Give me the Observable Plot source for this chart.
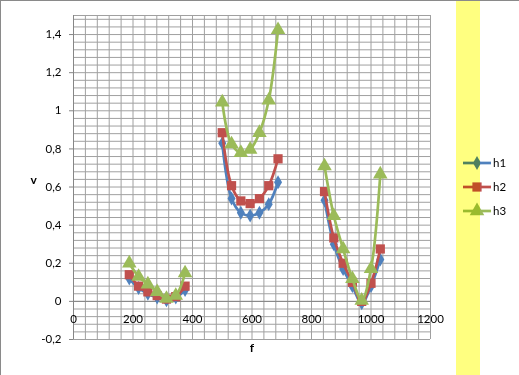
<!DOCTYPE html>
<html>
<head>
<meta charset="utf-8">
<script src="https://cdn.jsdelivr.net/npm/d3@7"></script>
<script src="https://cdn.jsdelivr.net/npm/@observablehq/plot@0.6"></script>
<style>
  body { margin: 0; background: #fff; }
  #wrap { position: relative; width: 519px; height: 375px; overflow: hidden; background: #fff; isolation: isolate; }
  #wrap svg { display: block; }
  .band { position: absolute; left: 456px; top: 0; width: 24px; height: 375px; background: #FFFF80; mix-blend-mode: multiply; }
  .bt { position: absolute; left: 0; top: 0; width: 519px; height: 1px; background: #8a8a8a; }
  .bl { position: absolute; left: 0; top: 0; width: 1px; height: 375px; background: #8a8a8a; }
  #legend { position: absolute; left: 0; top: 0; }
</style>
</head>
<body>
<div id="wrap"></div>
<script>
const seriesNames = ["h1", "h2", "h3"];
const seriesColors = ["#4F81BD", "#C0504D", "#9BBB59"];
const seriesSymbols = ["diamond", "square", "triangle"];
const seriesR = [4.2, 5.2, 5.4];

const groups = [1,1,1,1,1,1,1, 2,2,2,2,2,2,2, 3,3,3,3,3,3,3];
const f = [187.5, 218.75, 250, 281.25, 312.5, 343.75, 375,
           500, 531.25, 562.5, 593.75, 625, 656.25, 687.5,
           843.75, 875, 906.25, 937.5, 968.75, 1000, 1031.25];
const h1 = [0.12, 0.07, 0.04, 0.02, 0.005, 0.02, 0.06,
            0.83, 0.54, 0.465, 0.45, 0.465, 0.51, 0.625,
            0.53, 0.30, 0.17, 0.08, -0.01, 0.08, 0.22];
const h2 = [0.14, 0.08, 0.05, 0.03, 0.012, 0.025, 0.08,
            0.885, 0.607, 0.527, 0.513, 0.539, 0.607, 0.748,
            0.576, 0.333, 0.2, 0.1, 0.0, 0.095, 0.275];
const h3 = [0.2, 0.13, 0.09, 0.05, 0.015, 0.03, 0.148,
            1.045, 0.825, 0.78, 0.797, 0.885, 1.055, 1.425,
            0.71, 0.449, 0.275, 0.118, 0.005, 0.171, 0.667];

const xTicks = [0, 200, 400, 600, 800, 1000, 1200];
const yTicks = [-0.2, 0, 0.2, 0.4, 0.6, 0.8, 1, 1.2, 1.4];

const values = [h1, h2, h3];
const data = [];
seriesNames.forEach((s, i) => {
  f.forEach((x, j) => data.push({series: s, group: groups[j], f: x, v: values[i][j]}));
});

const fmt = d => String(d).replace(".", ",");
const gridX = d3.range(0, 1200.001, 40);
const gridY = d3.range(-0.2, 1.49, 0.04).map(d => +d.toFixed(2)).concat([1.5]);

const seriesMarks = seriesNames.flatMap((s, i) => {
  const sub = data.filter(d => d.series === s);
  return [
    Plot.line(sub, {x: "f", y: "v", z: "group", stroke: seriesColors[i], strokeWidth: 2.7, curve: "catmull-rom"}),
    Plot.dot(sub, {x: "f", y: "v", fill: seriesColors[i], stroke: "none", symbol: seriesSymbols[i], r: seriesR[i]})
  ];
});

const chart = Plot.plot({
  width: 519,
  height: 375,
  marginLeft: 73,
  marginRight: 89,
  marginTop: 15,
  marginBottom: 36,
  style: {fontFamily: "Lato, 'Open Sans', sans-serif", fontSize: "11.5px", color: "#000", background: "transparent"},
  x: {domain: [0, 1200]},
  y: {domain: [-0.2, 1.5]},
  marks: [
    Plot.ruleX(gridX, {y1: -0.2, y2: 1.5, stroke: "#a0a0a0", strokeWidth: 1}),
    Plot.ruleY(gridY, {x1: 0, x2: 1200, stroke: "#a0a0a0", strokeWidth: 1}),
    Plot.ruleX([0], {y1: -0.2, y2: 1.5, stroke: "#868686", strokeWidth: 1}),
    Plot.ruleY([0], {x1: 0, x2: 1200, stroke: "#868686", strokeWidth: 1}),
    Plot.axisY(yTicks, {tickFormat: fmt, tickSize: 4, tickPadding: 8, stroke: "#868686", label: null, fontSize: 11.5}),
    Plot.axisX([], {label: null}),
    Plot.text(xTicks, {x: d => d, y: 0, dy: 18, text: d => String(d), fill: "#000", fontSize: 11.5}),
    Plot.text(["v"], {frameAnchor: "left", dx: -43, dy: 3, text: d => d, fontWeight: "bold", fontSize: 12}),
    Plot.text(["f"], {frameAnchor: "bottom", dy: 12, text: d => d, fontWeight: "bold", fontSize: 12}),
    ...seriesMarks
  ]
});

const wrap = document.getElementById("wrap");
wrap.appendChild(chart);

// legend
const leg = d3.select(wrap).append("svg").attr("id", "legend").attr("width", 519).attr("height", 375);
const legY = [163, 187, 211];
const d3Symbols = {diamond: d3.symbolDiamond, square: d3.symbolSquare, triangle: d3.symbolTriangle};
seriesNames.forEach((s, i) => {
  const g = leg.append("g").attr("transform", `translate(0,${legY[i]})`);
  g.append("line").attr("x1", 463).attr("x2", 491).attr("y1", 0).attr("y2", 0)
    .attr("stroke", seriesColors[i]).attr("stroke-width", 2.7);
  g.append("path").attr("transform", "translate(477,0)")
    .attr("d", d3.symbol(d3Symbols[seriesSymbols[i]], Math.PI * seriesR[i] * seriesR[i])())
    .attr("fill", seriesColors[i]);
  g.append("text").attr("x", 493).attr("y", 0).attr("dy", "0.35em")
    .attr("font-family", "Lato, 'Open Sans', sans-serif").attr("font-size", 11.5).text(s);
});

const band = document.createElement("div"); band.className = "band"; wrap.appendChild(band);
const bt = document.createElement("div"); bt.className = "bt"; wrap.appendChild(bt);
const bl = document.createElement("div"); bl.className = "bl"; wrap.appendChild(bl);
</script>
</body>
</html>
